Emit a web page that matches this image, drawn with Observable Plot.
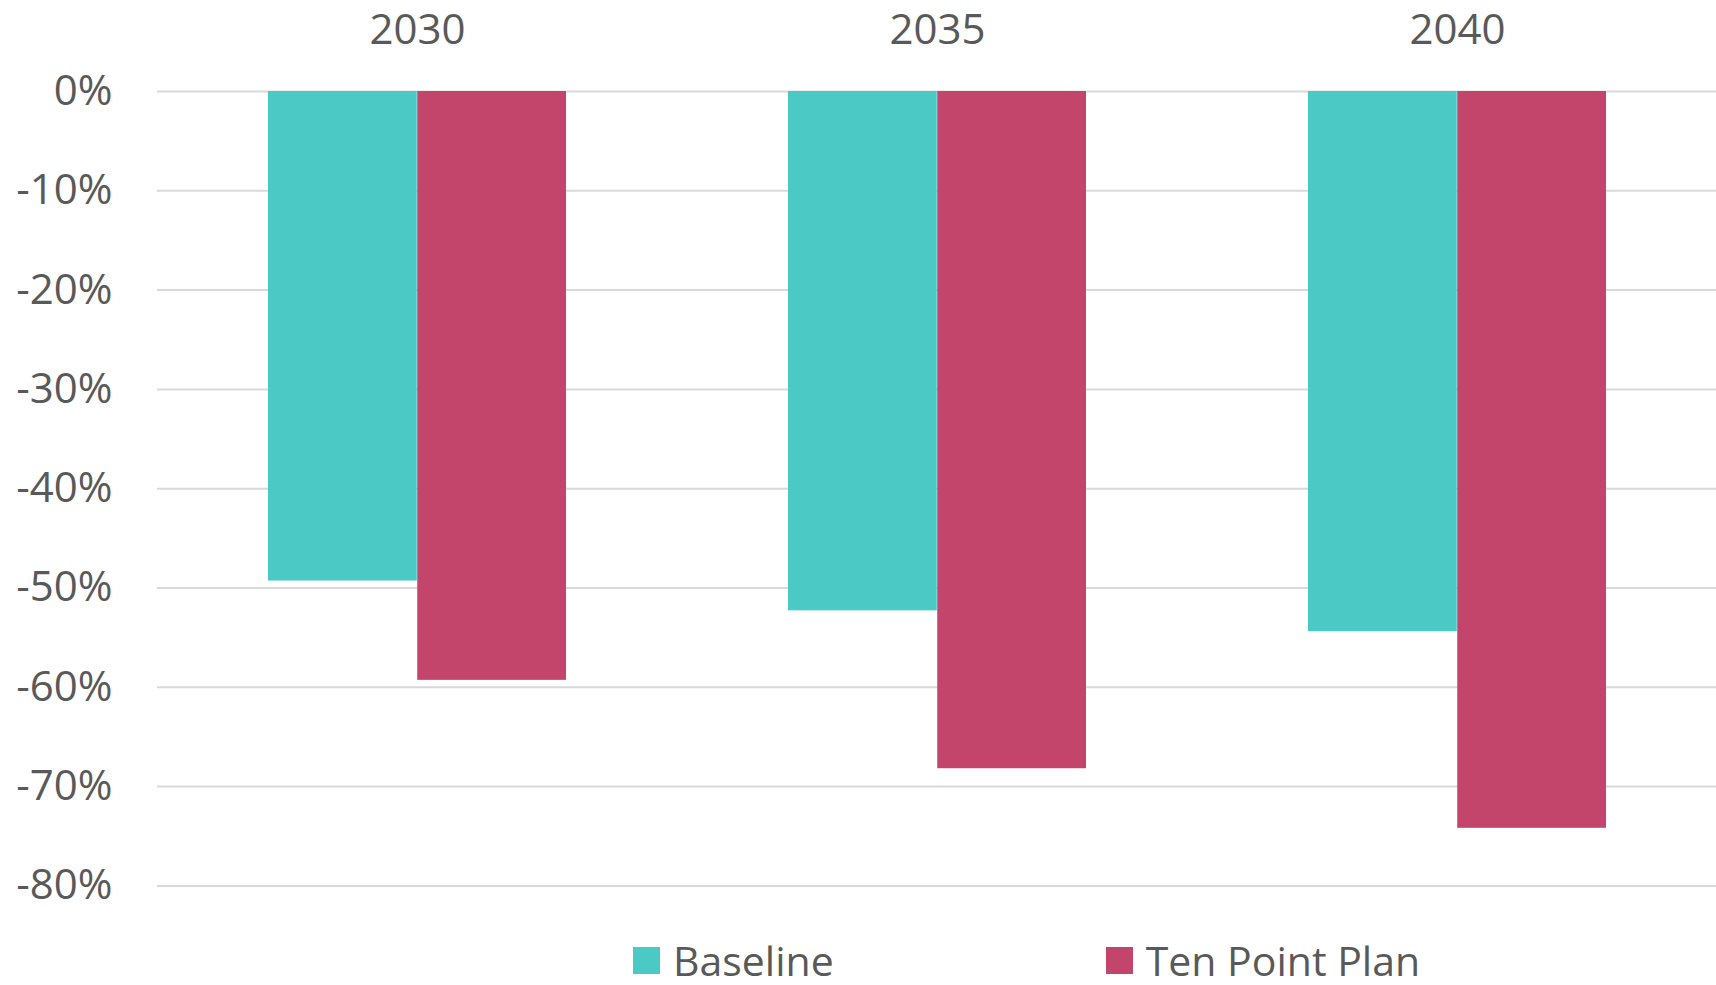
<!DOCTYPE html>
<html>
<head>
<meta charset="utf-8">
<script src="https://cdn.jsdelivr.net/npm/d3@7"></script>
<script src="https://cdn.jsdelivr.net/npm/@observablehq/plot@0.6"></script>
<style>
  html, body { margin: 0; padding: 0; background: #fff; }
  #wrap { position: relative; width: 1716px; height: 985px; font-family: "Open Sans", sans-serif; }
  #legend { position: absolute; top: 939px; left: 633px; display: flex; align-items: center; color: #595959; font-size: 41px; line-height: 1.05; }
  .item { display: flex; align-items: center; }
  .sw { width: 27px; height: 27px; margin-right: 13px; }
</style>
</head>
<body>
<div id="wrap">
  <div id="chart"></div>
  <div id="legend"></div>
</div>
<script>
const years = ["2030", "2035", "2040"];
const seriesNames = ["Baseline", "Ten Point Plan"];
const baseline = [-49.3, -52.3, -54.4];
const tenPointPlan = [-59.3, -68.2, -74.2];
const yTicks = [0, -10, -20, -30, -40, -50, -60, -70, -80];
const colors = ["#4AC9C5", "#C4456B"];

const data = [];
years.forEach((y, i) => {
  data.push({year: y, series: seriesNames[0], value: baseline[i]});
  data.push({year: y, series: seriesNames[1], value: tenPointPlan[i]});
});

const width = 1716, height = 930;
const marginLeft = 157, marginRight = 0, marginTop = 91, marginBottom = 44.6;
const padInner = 0.427, padOuter = 0.21;
const step = (width - marginLeft - marginRight) / (years.length - padInner + 2 * padOuter);
const half = step * (1 - padInner) / 2;

const chart = Plot.plot({
  width, height, marginLeft, marginRight, marginTop, marginBottom,
  style: {fontFamily: "Open Sans, sans-serif", color: "#595959", background: "#fff"},
  x: {domain: years, paddingInner: padInner, paddingOuter: padOuter, label: null},
  y: {domain: [-80, 0], label: null},
  color: {domain: seriesNames, range: colors},
  marks: [
    Plot.ruleY(yTicks, {stroke: "#d9d9d9", strokeWidth: 2}),
    Plot.barY(data.filter(d => d.series === seriesNames[0]), {x: "year", y: "value", fill: "series", insetLeft: 0, insetRight: half}),
    Plot.barY(data.filter(d => d.series === seriesNames[1]), {x: "year", y: "value", fill: "series", insetLeft: half, insetRight: 0}),
    Plot.axisX({anchor: "top", tickSize: 0, tickPadding: 48, fontSize: 42, fill: "#595959", label: null}),
    Plot.axisY({ticks: yTicks, tickSize: 0, tickPadding: 45, fontSize: 42, fill: "#595959", tickFormat: d => d + "%", label: null})
  ]
});
document.getElementById("chart").appendChild(chart);

const legend = document.getElementById("legend");
seriesNames.forEach((s, i) => {
  const item = document.createElement("div");
  item.className = "item";
  if (i > 0) item.style.marginLeft = "272px";
  const sw = document.createElement("div");
  sw.className = "sw";
  sw.style.background = colors[i];
  const t = document.createElement("span");
  t.textContent = s;
  item.appendChild(sw);
  item.appendChild(t);
  legend.appendChild(item);
});
</script>
</body>
</html>
